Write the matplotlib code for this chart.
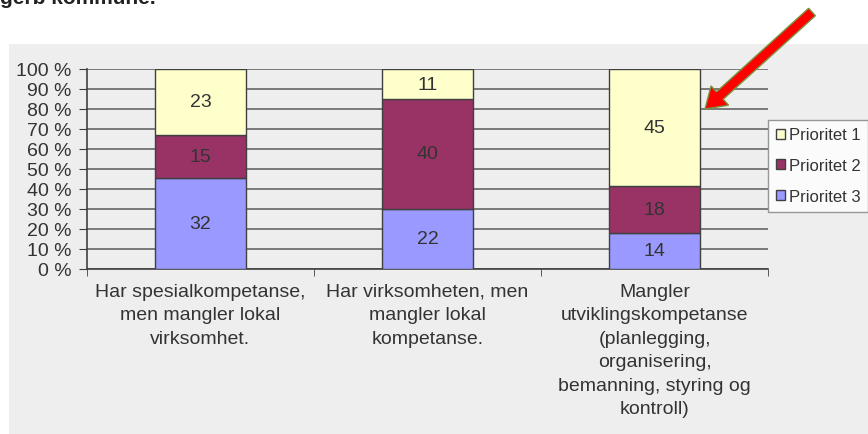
import numpy as np
import matplotlib.pyplot as plt
from matplotlib.patches import Rectangle, FancyArrow

plt.rcParams['font.family'] = ['Liberation Sans', 'DejaVu Sans']

categories = ["Har spesialkompetanse,\nmen mangler lokal\nvirksomhet.",
              "Har virksomheten, men\nmangler lokal\nkompetanse.",
              "Mangler\nutviklingskompetanse\n(planlegging,\norganisering,\nbemanning, styring og\nkontroll)"]
series = ["Prioritet 1", "Prioritet 2", "Prioritet 3"]
prioritet1 = [23, 11, 45]
prioritet2 = [15, 40, 18]
prioritet3 = [32, 22, 14]
colors = {"Prioritet 1": "#FFFFCC", "Prioritet 2": "#993366", "Prioritet 3": "#9999FF"}

W, H = 868, 435
fig = plt.figure(figsize=(W / 100, H / 100), dpi=100)
fig.patch.set_facecolor("white")

# grey chart area
fig.patches.append(Rectangle((9 / W, 0), 1, 1 - 45 / H, transform=fig.transFigure,
                             facecolor="#EEEEEE", edgecolor="none", zorder=-10))

fig.text(0, 1 - 4 / H, "gerb kommune.", fontsize=15, fontweight="bold",
         color="#222222", va="baseline", ha="left")

ax = fig.add_axes([87 / W, 1 - 270 / H, (768 - 87) / W, 200 / H])
ax.set_facecolor("none")

vals = {"Prioritet 1": np.array(prioritet1, float),
        "Prioritet 2": np.array(prioritet2, float),
        "Prioritet 3": np.array(prioritet3, float)}
total = vals["Prioritet 1"] + vals["Prioritet 2"] + vals["Prioritet 3"]
x = np.arange(len(categories))

bottom = np.zeros(len(categories))
bars = {}
for name in ["Prioritet 3", "Prioritet 2", "Prioritet 1"]:
    frac = vals[name] / total * 100
    bars[name] = ax.bar(x, frac, 0.4, bottom=bottom, color=colors[name],
                        edgecolor="#404040", linewidth=1, zorder=3)
    for xi, b, f, v in zip(x, bottom, frac, vals[name]):
        ax.text(xi, b + f / 2, "%d" % v, ha="center", va="center",
                fontsize=14, color="#333333", zorder=4)
    bottom += frac

ax.set_xlim(-0.5, 2.5)
ax.set_ylim(0, 100)
ax.set_yticks(np.arange(0, 101, 10))
ax.set_yticklabels(["%d %%" % v for v in range(0, 101, 10)])
ax.yaxis.grid(True, color="#666666", linewidth=1.2, zorder=1)
ax.set_axisbelow(True)

ax.set_xticks(x)
ax.set_xticklabels(categories, fontsize=14, color="#333333", linespacing=1.5)
ax.tick_params(axis="x", length=0, pad=10)
ax.set_xticks([-0.5, 0.5, 1.5, 2.5], minor=True)
ax.tick_params(axis="x", which="minor", length=5, direction="out", color="#404040")
ax.tick_params(axis="y", length=6, direction="out", color="#404040",
               labelsize=14, labelcolor="#333333", pad=5)

for s in ["top", "right"]:
    ax.spines[s].set_visible(False)
for s in ["left", "bottom"]:
    ax.spines[s].set_color("#404040")
    ax.spines[s].set_linewidth(1.2)

leg = fig.legend([bars[n] for n in series], series, loc="upper left",
                 bbox_to_anchor=(768 / W, 1 - 121 / H), fontsize=12,
                 frameon=True, fancybox=False, handlelength=0.55, handleheight=0.55,
                 handletextpad=0.25, borderpad=0.45, labelspacing=0.95,
                 borderaxespad=0)
leg.get_frame().set_edgecolor("#808080")
leg.get_frame().set_linewidth(1)
for t in leg.get_texts():
    t.set_color("#333333")

# red arrow pointing at the third bar
arr = FancyArrow(812, H - 13, 705 - 812, -(110 - 13), width=10, head_width=26,
                 head_length=20, length_includes_head=True, facecolor="#FF0000",
                 edgecolor="#77933C", linewidth=1, transform=None, zorder=10)
fig.patches.append(arr)

fig.savefig("out.png", dpi=100)
